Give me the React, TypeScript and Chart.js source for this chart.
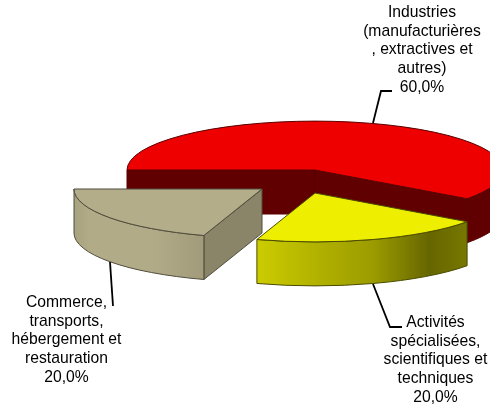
import React, { useEffect, useRef } from "react";
import { Chart, registerables } from "chart.js";

Chart.register(...registerables);

const categories = [
  "Industries (manufacturières , extractives et autres)",
  "Activités spécialisées, scientifiques et techniques",
  "Commerce, transports, hébergement et restauration",
];
const shares = [60, 20, 20];
const labelLines = [
  ["Industries", "(manufacturières", ", extractives et", "autres)"],
  ["Activités", "spécialisées,", "scientifiques et", "techniques"],
  ["Commerce,", "transports,", "hébergement et", "restauration"],
];
const topColors = ["#EE0000", "#EEEE00", "#B4AD8A"];
const faceColors = ["#600000", "#666600", "#8A8469"];
const outlineColors = ["#5a0000", "#4a4a00", "#4f4c3c"];
const wallStops: [number, string][][] = [
  [[0, "#600000"], [1, "#600000"]],
  [[0, "#CCCC00"], [0.3, "#B0B000"], [0.55, "#9C9C00"], [0.82, "#666600"], [1, "#777700"]],
  [[0, "#A8A27F"], [0.12, "#B2AB88"], [0.6, "#B2AB88"], [1, "#A29B7B"]],
];
const sliceShift = [[0, 0], [0, 23], [-53, 19]];
const labelCenters = [[422, 12.5], [435.5, 322.5], [66.5, 302.5]];
const leaders = [
  [[373, 123], [381, 91], [392, 91]],
  [[373, 284], [390, 327], [402, 327]],
  [[110, 262], [113, 306]],
];
const pieCenter = [315, 170];
const squash = 0.26;
const depth = 44;
const lineStep = 18.7;

const formatShare = (v: number) => v.toFixed(1).replace(".", ",") + "%";

const pie3d = {
  id: "pie3d",
  beforeDatasetsDraw(chart: any) {
    const ctx: CanvasRenderingContext2D = chart.ctx;
    const arcs = chart.getDatasetMeta(0).data;
    arcs.forEach((arc: any, i: number) => {
      const cx = pieCenter[0] + sliceShift[i][0];
      const cy = pieCenter[1] + sliceShift[i][1];
      const r = arc.outerRadius;
      const ry = r * squash;
      const a0 = arc.startAngle;
      const a1 = arc.endAngle;
      const px = (t: number) => cx + r * Math.cos(t);
      const py = (t: number) => cy + ry * Math.sin(t);
      ctx.save();
      ctx.lineWidth = 1;
      ctx.lineJoin = "round";
      ctx.strokeStyle = outlineColors[i];

      const face = (t: number) => {
        ctx.beginPath();
        ctx.moveTo(cx, cy);
        ctx.lineTo(px(t), py(t));
        ctx.lineTo(px(t), py(t) + depth);
        ctx.lineTo(cx, cy + depth);
        ctx.closePath();
        ctx.fillStyle = faceColors[i];
        ctx.fill();
        ctx.stroke();
      };
      if (Math.cos(a0) < -1e-6) face(a0);
      if (Math.cos(a1) > 1e-6) face(a1);

      const twoPi = Math.PI * 2;
      for (const k of [0, twoPi]) {
        const from = Math.max(a0, k);
        const to = Math.min(a1, k + Math.PI);
        if (from >= to) continue;
        const x0 = Math.min(px(from), px(to));
        const x1 = Math.max(px(from), px(to));
        const g = ctx.createLinearGradient(x0, 0, x1, 0);
        wallStops[i].forEach(([s, c]) => g.addColorStop(s, c));
        ctx.beginPath();
        ctx.ellipse(cx, cy, r, ry, 0, from, to);
        ctx.lineTo(px(to), py(to) + depth);
        ctx.ellipse(cx, cy + depth, r, ry, 0, to, from, true);
        ctx.closePath();
        ctx.fillStyle = g;
        ctx.fill();
        ctx.stroke();
      }

      ctx.save();
      ctx.translate(cx, cy);
      ctx.scale(1, squash);
      ctx.translate(-arc.x, -arc.y);
      arc.draw(ctx);
      ctx.restore();

      ctx.beginPath();
      ctx.moveTo(cx, cy);
      ctx.ellipse(cx, cy, r, ry, 0, a0, a1);
      ctx.closePath();
      ctx.stroke();
      ctx.restore();
    });
    return false;
  },
  afterDraw(chart: any) {
    const ctx: CanvasRenderingContext2D = chart.ctx;
    ctx.save();
    ctx.strokeStyle = "#000";
    ctx.lineWidth = 1.8;
    leaders.forEach((pts) => {
      ctx.beginPath();
      pts.forEach(([x, y], j) => (j ? ctx.lineTo(x, y) : ctx.moveTo(x, y)));
      ctx.stroke();
    });
    ctx.fillStyle = "#000";
    ctx.font = '15.7px "Liberation Sans", Arial, sans-serif';
    ctx.textAlign = "center";
    ctx.textBaseline = "middle";
    labelLines.forEach((lines, i) => {
      const [x, y] = labelCenters[i];
      [...lines, formatShare(shares[i])].forEach((t, j) => {
        ctx.fillText(t, x, y + j * lineStep);
      });
    });
    ctx.restore();
  },
};

export default function App() {
  const ref = useRef<HTMLCanvasElement>(null);
  useEffect(() => {
    const chart = new Chart(ref.current!, {
      type: "pie",
      data: {
        labels: categories,
        datasets: [
          {
            data: shares,
            backgroundColor: topColors,
            borderWidth: 0,
            radius: 188,
          } as any,
        ],
      },
      options: {
        responsive: false,
        animation: false,
        rotation: 270,
        layout: { padding: 0 },
        plugins: { legend: { display: false }, tooltip: { enabled: false }, title: { display: false } },
      },
      plugins: [pie3d],
    } as any);
    return () => chart.destroy();
  }, []);
  return (
    <div style={{ position: "absolute", left: 0, top: 0, width: 490, height: 404 }}>
      <canvas ref={ref} width={490} height={404} style={{ display: "block" }} />
    </div>
  );
}
